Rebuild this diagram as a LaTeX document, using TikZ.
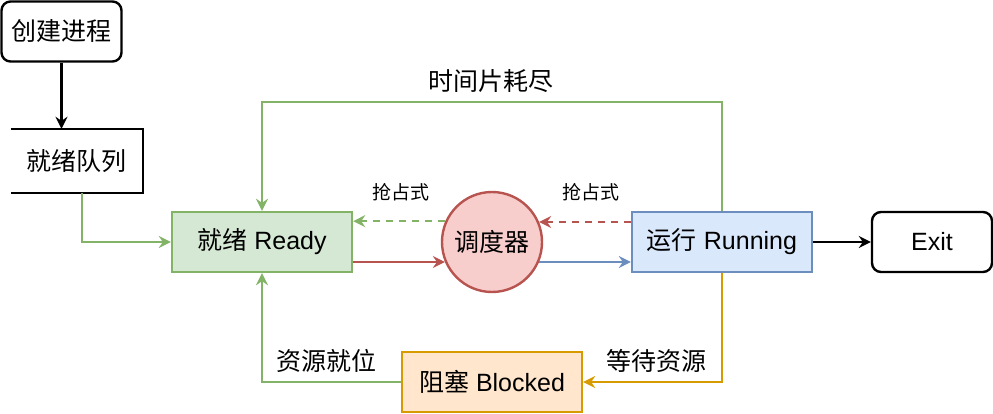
\documentclass[tikz,border=0pt]{standalone}
\usepackage{fontspec}
\setmainfont{Liberation Sans}
\newfontfamily\cjk{Noto Sans CJK SC}
\usetikzlibrary{arrows.meta}
\definecolor{gline}{HTML}{82B366}
\definecolor{gfill}{HTML}{D5E8D4}
\definecolor{rline}{HTML}{B85450}
\definecolor{rfill}{HTML}{F8CECC}
\definecolor{bline}{HTML}{6C8EBF}
\definecolor{bfill}{HTML}{DAE8FC}
\definecolor{oline}{HTML}{D79B00}
\definecolor{ofill}{HTML}{FFE6CC}
\begin{document}
\begin{tikzpicture}[x=1pt,y=-1pt,
  line width=2.4pt,
  big/.style={font=\fontsize{25}{30}\selectfont},
  small/.style={font=\fontsize{19}{23}\selectfont},
  box/.style={big, draw, minimum width=180pt, minimum height=60pt, inner sep=0pt},
  rbox/.style={big, draw=black, fill=white, rounded corners=9pt, minimum width=120pt, minimum height=60pt, inner sep=0pt},
  conn/.style={-{Stealth[length=12pt,width=12pt,inset=4pt]}},
  dashline/.style={dash pattern=on 7pt off 6pt}
]
\useasboundingbox (0,0) rectangle (993,414);

% nodes
\node[rbox] (create) at (61.5,31.5) {{\cjk 创建进程}};
\node[big, minimum width=130pt, minimum height=62pt, inner sep=0pt] (queue) at (77,161) {{\cjk 就绪队列}};
\draw (queue.north west) -- (queue.north east) -- (queue.south east) -- (queue.south west);
\node[box, draw=gline, fill=gfill] (ready) at (262,242) {{\cjk 就绪} Ready};
\node[big, circle, draw=rline, fill=rfill, minimum size=100pt, inner sep=0pt] (sched) at (492,242) {{\cjk 调度器}};
\node[box, draw=bline, fill=bfill] (running) at (722,242) {{\cjk 运行} Running};
\node[rbox] (exit) at (932,242) {Exit};
\node[box, draw=oline, fill=ofill] (blocked) at (492,382) {{\cjk 阻塞} Blocked};

% labels
\node[big] (lblslice) at (491,81) {{\cjk 时间片耗尽}};
\node[small] (lblpre1) at (401,192) {{\cjk 抢占式}};
\node[small] (lblpre2) at (591,192) {{\cjk 抢占式}};
\node[big] (lblwait) at (656,361) {{\cjk 等待资源}};
\node[big] (lblres) at (326,361) {{\cjk 资源就位}};

\coordinate (top) at (492,102);

% connectors
\draw[conn] (create.south) -- (create.south |- queue.north);
\draw[conn, gline] ([xshift=5pt]queue.south) |- (ready.west);
\draw[conn, gline] (running.north) -- (running.north |- top) -| (ready.north);
\draw[conn, gline, dashline] (sched.156.42) -- (sched.156.42 -| ready.east);
\draw[conn, rline] (sched.203.58 -| ready.east) -- (sched.203.58);
\draw[conn, rline, dashline] (sched.23.58 -| running.west) -- (sched.23.58);
\draw[conn, bline] (sched.-23.58) -- (sched.-23.58 -| running.west);
\draw[conn] (running.east) -- (exit.west);
\draw[conn, oline] (running.south) |- (blocked.east);
\draw[conn, gline] (blocked.west) -| (ready.south);
\end{tikzpicture}
\end{document}
